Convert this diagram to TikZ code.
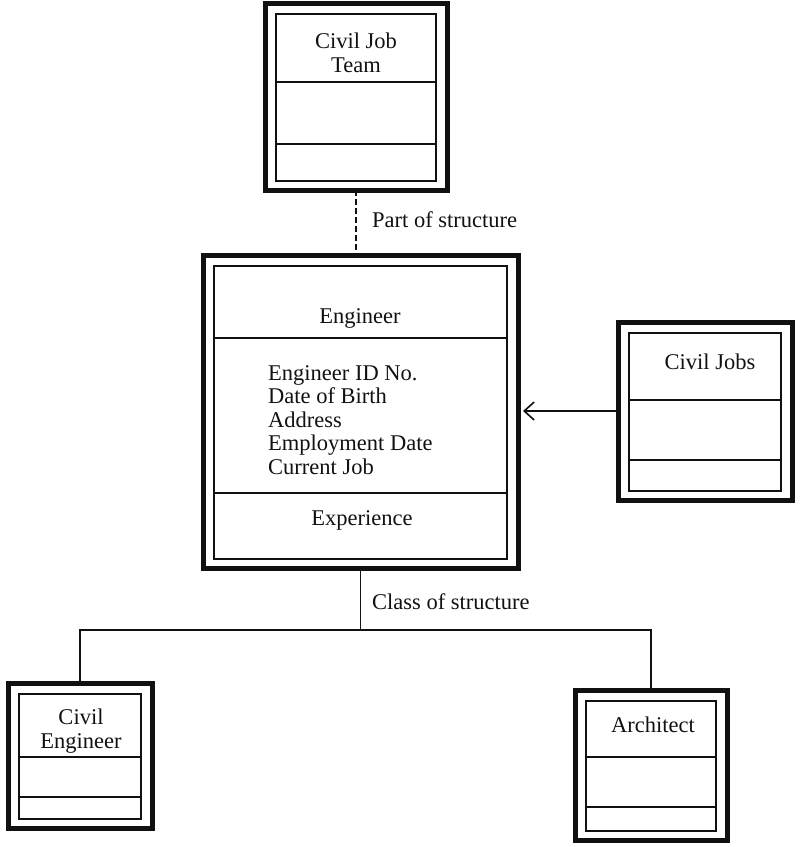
\documentclass[tikz,border=0pt]{standalone}
\usepackage{fontspec}
\setmainfont{Liberation Serif}
\usetikzlibrary{arrows.meta,positioning,fit}
\definecolor{umlink}{HTML}{111111}
\tikzset{
  clsframe/.style={draw=umlink, line width=5pt, inner sep=0pt, outer sep=0pt},
  clsinner/.style={draw=umlink, line width=1.6pt},
  txt/.style={font=\fontsize{22.5}{23.5}\selectfont, text=umlink, inner sep=0pt, align=center},
  lbl/.style={txt, anchor=west},
  conn/.style={draw=umlink, line width=1.6pt},
  partof/.style={conn, dash pattern=on 6pt off 3pt},
  arr/.style={conn, -{Straight Barb[length=10pt, width=18pt, line width=1.6pt]}, shorten >=5pt},
}

\begin{document}
\begin{tikzpicture}[x=1pt, y=-1pt]
  \useasboundingbox (0,0) rectangle (802,847);
  % class boxes: double frame and two compartment lines
  \foreach \nm/\xa/\ya/\xb/\yb/\da/\db in {team/265/3/447/190/82/144, eng/203/255/518/568/338/493, jobs/618/322/792/500/400/460, civeng/8/683/152/828/757/797, arch/575/690/727/840/757/807} {
    \node[clsframe, fit={(\xa,\ya) (\xb,\yb)}] (\nm) {};
    \draw[clsinner] (\xa+11,\ya+11) rectangle (\xb-11,\yb-9);
    \draw[clsinner] (\xa+11,\da) -- (\xb-11,\da);
    \draw[clsinner] (\xa+11,\db) -- (\xb-11,\db);
  }

  \node[txt] (teamname) at (356,53) {Civil Job\\Team};
  \node[txt] (engname) at (360,318) {Engineer};
  \node[txt, anchor=west, align=left] (engattr) at (268,420) {Engineer ID No.\\Date of Birth\\Address\\Employment Date\\Current Job};
  \node[txt] (engops) at (362,520) {Experience};
  \node[txt] (jobsname) at (710,362) {Civil Jobs};
  \node[txt] (civengname) at (81,731) {Civil\\Engineer};
  \node[txt] (archname) at (653,725) {Architect};

  % whole-part link
  \draw[partof] (team.south) -- (team.south |- eng.north);
  \node[lbl] (partlbl) at (372,220) {Part of structure};

  % association
  \draw[arr] (jobs.west) -- (jobs.west -| eng.east);

  % generalisation tree
  \draw[conn] (eng.south) -- ++(0,62) coordinate (fork);
  \draw[conn] (civeng.north) |- (fork) -| (arch.north);
  \node[lbl] (classlbl) at (372,602) {Class of structure};
\end{tikzpicture}
\end{document}
